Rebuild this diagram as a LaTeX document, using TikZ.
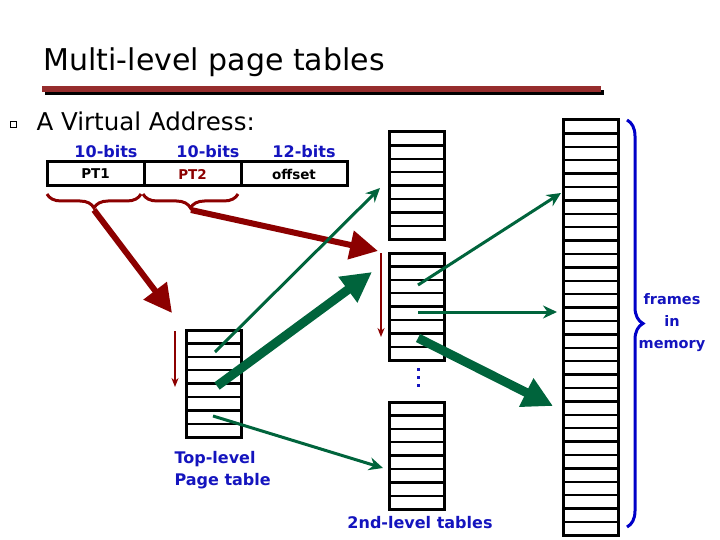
\documentclass[tikz,border=0pt]{standalone}
\usepackage{fontspec}
\setmainfont{DejaVu Sans}
\usetikzlibrary{arrows.meta,decorations.pathreplacing,positioning}
\definecolor{addrblue}{RGB}{20,20,190}
\definecolor{braceblue}{RGB}{0,0,200}
\definecolor{ptred}{RGB}{140,0,0}
\definecolor{barred}{RGB}{150,45,45}
\definecolor{ptgreen}{RGB}{0,100,60}
\tikzset{
	tbl/.style={draw,line width=3pt,minimum width=55pt,inner sep=0pt,outer sep=0pt,anchor=north west},
	tblrow/.style={line width=2.4pt},
	field/.style={draw,line width=3pt,minimum height=24pt,inner sep=0pt,outer sep=0pt,font=\bfseries\fontsize{13.5}{15}\selectfont},
	bits/.style={text=addrblue,font=\bfseries\fontsize{16}{18}\selectfont},
	lbl/.style={text=addrblue,font=\bfseries\fontsize{16}{22}\selectfont},
	redfat/.style={ptred,line width=6pt,-{Triangle[length=28pt,width=28pt]}},
	redthin/.style={ptred,line width=2pt,-{Stealth[length=9pt,width=7pt]}},
	greenthin/.style={ptgreen,line width=3pt,-{Stealth[length=14pt,width=13pt]}},
	greenfat/.style={ptgreen,line width=9pt,-{Triangle[length=30pt,width=30pt]}},
	redbrace/.style={decorate,decoration={brace,amplitude=14pt},ptred,line width=3pt},
	bluebrace/.style={decorate,decoration={brace,amplitude=16pt},braceblue,line width=3pt}
}
\begin{document}
\begin{tikzpicture}[x=1pt,y=-1pt]
	\useasboundingbox (0,0) rectangle (720,540);
	\node[anchor=west,font=\fontsize{30}{33}\selectfont] (title) at (40,62) {Multi-level page tables};
	\fill[black] (45,90) rectangle (604,95);
	\fill[barred] (42,86) rectangle (601,92);
	\draw[line width=0.8pt] (10,121) rectangle (16,127);
	\node[anchor=west,font=\fontsize{24.5}{27}\selectfont] (va) at (33,121) {A Virtual Address:};

	\node[field,minimum width=97pt,anchor=north west] (pt1) at (47,162) {PT1};
	\node[field,minimum width=97pt,right=0pt of pt1,text=ptred] (pt2) {PT2};
	\node[field,minimum width=106pt,right=0pt of pt2] (off) {offset};
	\node[bits] (b1) at (106,152) {10-bits};
	\node[bits] (b2) at (208,152) {10-bits};
	\node[bits] (b3) at (304,152) {12-bits};
	\draw[redbrace] (141,194) -- (47,194);
	\draw[redbrace] (238,194) -- (143,194);
	\coordinate (tip1) at (94,210);
	\coordinate (tip2) at (191,210);

	\foreach \n/\x/\y/\r in {top/186/330/8,sec1/389/132/8,sec2/389/253/8,sec3/389/402/8,frames/563/120/31} {
		\node[tbl,minimum height=\r*13.4pt] (\n) at (\x,\y) {};
		\foreach \i in {1,...,\r}
			\draw[tblrow] ([yshift=-\i*13.4pt]\n.north west) -- ([yshift=-\i*13.4pt]\n.north east);
	}

	\coordinate (topin) at (172,313);
	\coordinate (secin) at (378,251);
	\draw[redfat] (tip1) -- (topin);
	\draw[redfat] (tip2) -- (secin);
	\coordinate (ra1) at (175,331);
	\coordinate (ra2) at (175,387);
	\coordinate (rb1) at (381,253);
	\coordinate (rb2) at (381,337);
	\draw[redthin] (ra1) -- (ra2);
	\draw[redthin] (rb1) -- (rb2);

	\coordinate (t2) at (215,352);
	\coordinate (t5) at (217,386);
	\coordinate (t7) at (213,416);
	\coordinate (s2) at (418,285);
	\coordinate (s4) at (418,312);
	\coordinate (s6) at (418,338);
	\coordinate (to1) at (380,188);
	\coordinate (to2) at (372,272);
	\coordinate (to3) at (383,468);
	\coordinate (fr1) at (561,193);
	\coordinate (fr2) at (557,312);
	\coordinate (fr3) at (553,406);
	\draw[greenthin] (t2) -- (to1);
	\draw[greenfat] (t5) -- (to2);
	\draw[greenthin] (t7) -- (to3);
	\draw[greenthin] (s2) -- (fr1);
	\draw[greenthin] (s4) -- (fr2);
	\draw[greenfat] (s6) -- (fr3);

	\foreach \y in {368,376,384}
		\fill[addrblue] (417,\y) rectangle ++(3,3);
	\draw[bluebrace] (627,120) -- (627,527);
	\node[lbl,align=center,font=\bfseries\fontsize{14.5}{22}\selectfont] (mem) at (672,323) {frames\\in\\memory};
	\node[lbl,align=left,anchor=west] (toplbl) at (171,470) {Top-level\\Page table};
	\node[lbl] (seclbl) at (420,523) {2nd-level tables};
\end{tikzpicture}
\end{document}
